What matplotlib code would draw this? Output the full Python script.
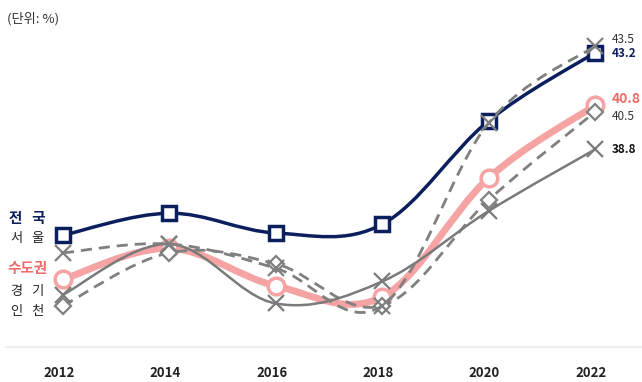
import numpy as np
import matplotlib
matplotlib.use("Agg")
import matplotlib.pyplot as plt
from matplotlib.path import Path
from matplotlib.patches import PathPatch

plt.rcParams['font.family'] = ['Noto Sans CJK KR', 'DejaVu Sans']

years = [2012, 2014, 2016, 2018, 2020, 2022]
national = [34.9, 35.9, 35.0, 35.4, 40.1, 43.2]    # 전국
seoul = [34.1, 34.5, 33.4, 31.7, 40.0, 43.5]       # 서울
capital = [32.9, 34.3, 32.6, 32.1, 37.5, 40.8]     # 수도권
gyeonggi = [32.2, 34.5, 31.8, 32.8, 36.0, 38.8]    # 경기
incheon = [31.7, 34.1, 33.6, 31.7, 36.5, 40.5]     # 인천

end_labels = ['43.2', '43.5', '40.8', '38.8', '40.5']
left_names = ['전   국', '서   울', '수도권', '경   기', '인   천']


def smooth_path(x, y, t=0.35):
    # catmull-rom style bezier through the points
    x = np.asarray(x, float)
    y = np.asarray(y, float)
    verts = [(x[0], y[0])]
    codes = [Path.MOVETO]
    n = len(x)
    for i in range(n - 1):
        x0, y0 = (x[i - 1], y[i - 1]) if i > 0 else (x[i], y[i])
        x3, y3 = (x[i + 2], y[i + 2]) if i + 2 < n else (x[i + 1], y[i + 1])
        c1 = (x[i] + (x[i + 1] - x0) * t / 2, y[i] + (y[i + 1] - y0) * t / 2)
        c2 = (x[i + 1] - (x3 - x[i]) * t / 2, y[i + 1] - (y3 - y[i]) * t / 2)
        verts += [c1, c2, (x[i + 1], y[i + 1])]
        codes += [Path.CURVE4] * 3
    return Path(verts, codes)


fig = plt.figure(figsize=(6.42, 3.82), dpi=100)
ax = fig.add_axes([0, 0, 1, 1])
ax.set_xlim(2010.816, 2022.883)
ax.set_ylim(28.23, 45.59)
ax.axis('off')

series = [
    # values, color, lw, ls, marker, msize, mew, face, z
    (capital, '#f5a3a3', 5.0, '-', 'o', 12, 2.5, 'white', 2),
    (national, '#0b1f5e', 2.5, '-', 's', 10, 2.5, 'white', 3),
    (incheon, '#808080', 2.0, (0, (4, 2.5)), 'D', 8, 1.6, 'white', 4),
    (gyeonggi, '#7a7a7a', 1.8, '-', 'x', 11, 1.6, 'none', 5),
    (seoul, '#7f7f7f', 2.0, (0, (4, 2.5)), 'x', 11, 1.6, 'none', 6),
]

for vals, col, lw, ls, mk, ms, mew, face, z in series:
    p = smooth_path(years, vals)
    ax.add_patch(PathPatch(p, fill=False, edgecolor=col, lw=lw,
                           linestyle=ls, zorder=z, capstyle='butt'))
    ax.plot(years, vals, linestyle='none', marker=mk, markersize=ms,
            markeredgewidth=mew, markeredgecolor=col, markerfacecolor=face,
            zorder=z + 0.5)

# end value labels
lx = 2022.32
ax.text(lx, seoul[-1] + 0.3, end_labels[1], fontsize=8.5, color='#333333',
        va='center', ha='left')
ax.text(lx, national[-1] - 0.05, end_labels[0], fontsize=8.5, color='#0b1f5e',
        va='center', ha='left', fontweight='bold')
ax.text(lx, capital[-1] + 0.3, end_labels[2], fontsize=10, color='#f06a6a',
        va='center', ha='left', fontweight='bold')
ax.text(lx, incheon[-1] - 0.2, end_labels[4], fontsize=8.5, color='#333333',
        va='center', ha='left')
ax.text(lx, gyeonggi[-1], end_labels[3], fontsize=8.5, color='#111111',
        va='center', ha='left', fontweight='bold')

# left series names
name_y = [35.7, 34.75, 33.4, 32.35, 31.45]
name_col = ['#0b1f5e', '#222222', '#f06a6a', '#222222', '#222222']
name_w = ['bold', 'medium', 'bold', 'medium', 'medium']
for nm, yy, c, w in zip(left_names, name_y, name_col, name_w):
    ax.text(2011.33, yy, nm, fontsize=10.5 if w == 'bold' else 9.5,
            color=c, fontweight=w, ha='center', va='center')

# baseline and year labels
ax.axhline(28.23 + 35 / 22, xmin=0.01, xmax=1.0, color='#eeeeee', lw=1.5, zorder=0)
for yr in years:
    ax.text(yr - 0.08, 28.23 + 9 / 22, str(yr), fontsize=9.5, fontweight='bold',
            ha='center', va='center', color='#222222')

ax.text(2010.95, 45.59 - 19 / 22, '(단위: %)', fontsize=9.5, color='#333333',
        fontweight='medium', ha='left', va='center')

fig.savefig('out.png', dpi=100)
